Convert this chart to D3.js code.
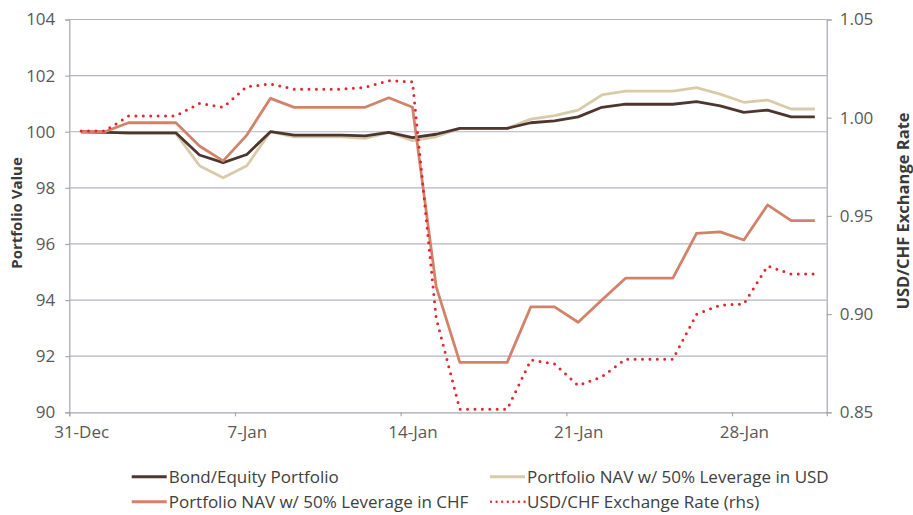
<!DOCTYPE html>
<html>
<head>
<meta charset="utf-8">
<script src="https://cdn.jsdelivr.net/npm/d3@7"></script>
<style>
  body { margin: 0; background: #fff; }
  svg { font-family: "Open Sans", sans-serif; }
</style>
</head>
<body>
<div id="chart"></div>
<script>
// Daily values, 31-Dec-2014 .. 31-Jan-2015
let bondEquity = [100, 99.98, 99.96, 99.96, 99.96, 99.17, 98.9, 99.19, 100, 99.88, 99.88, 99.88, 99.85, 99.98, 99.79, 99.91,
    100.12, 100.12, 100.12, 100.32, 100.39, 100.53, 100.87, 100.98, 100.98, 100.98, 101.07, 100.92, 100.69, 100.77, 100.53, 100.53];
let navUSD = [100, 100, 99.94, 99.94, 99.94, 98.79, 98.36, 98.79, 100, 99.82, 99.82, 99.82, 99.76, 99.98, 99.68, 99.82,
    100.12, 100.12, 100.12, 100.45, 100.57, 100.77, 101.31, 101.45, 101.45, 101.45, 101.57, 101.34, 101.05, 101.13, 100.81, 100.81];
let navCHF = [100, 100, 100.32, 100.32, 100.32, 99.49, 98.96, 99.88, 101.19, 100.87, 100.87, 100.87, 100.87, 101.21, 100.87, 94.48,
    91.78, 91.78, 91.78, 93.76, 93.76, 93.21, 94.0, 94.78, 94.78, 94.78, 96.38, 96.43, 96.14, 97.39, 96.83, 96.83];
let usdchf = [0.9932, 0.9932, 1.0009, 1.0009, 1.0009, 1.0073, 1.0053, 1.0158, 1.0172, 1.0145, 1.0145, 1.0145, 1.0155, 1.0188, 1.0183, 0.898,
    0.8515, 0.8515, 0.8515, 0.8766, 0.8746, 0.8636, 0.8681, 0.877, 0.877, 0.877, 0.8999, 0.9046, 0.9051, 0.9245, 0.9204, 0.9204];

let leftTicks = [90, 92, 94, 96, 98, 100, 102, 104];
let rightTicks = [0.85, 0.90, 0.95, 1.00, 1.05];
let xTickDays = [0, 7, 14, 21, 28];

let width = 913, height = 515;
let margin = { top: 19.5, right: 86.3, bottom: 102.7, left: 69.3 };

let svg = d3.select("#chart").append("svg")
    .attr("width", width)
    .attr("height", height);

function dayDate(i, half) {
    return new Date(2014, 11, 31 + i, half ? 12 : 0);
}

let x = d3.scaleTime()
    .domain([dayDate(0), dayDate(32)])
    .range([margin.left, width - margin.right]);
let yL = d3.scaleLinear().domain([90, 104]).range([height - margin.bottom, margin.top]);
let yR = d3.scaleLinear().domain([0.85, 1.05]).range([height - margin.bottom, margin.top]);
let halfDay = x(dayDate(0, true)) - x(dayDate(0));

let gridColor = "#b4b4bc";
let labelColor = "#595959";

// gridlines
svg.append("g")
    .selectAll("line")
    .data(leftTicks.slice(1))
    .enter().append("line")
    .attr("x1", margin.left).attr("x2", width - margin.right)
    .attr("y1", d => yL(d)).attr("y2", d => yL(d))
    .attr("stroke", gridColor).attr("stroke-width", 1.2);

// axes
let fmtDay = d3.timeFormat("%-d-%b");
let xAxis = svg.append("g")
    .attr("transform", "translate(0," + yL(90) + ")")
    .call(d3.axisBottom(x).tickValues(xTickDays.map(d => dayDate(d))).tickFormat(fmtDay).tickSizeOuter(0).tickSize(4).tickPadding(6));

let leftAxis = svg.append("g")
    .attr("transform", "translate(" + margin.left + ",0)")
    .call(d3.axisLeft(yL).tickValues(leftTicks).tickFormat(d3.format("d")).tickSizeOuter(0).tickSize(4).tickPadding(10));

let rightAxis = svg.append("g")
    .attr("transform", "translate(" + (width - margin.right) + ",0)")
    .call(d3.axisRight(yR).tickValues(rightTicks).tickFormat(d3.format(".2f")).tickSizeOuter(0).tickSize(5).tickPadding(8));

[xAxis, leftAxis, rightAxis].forEach(function(a) {
    a.selectAll(".domain").attr("stroke", "#a6a6ae").attr("stroke-width", 1.2);
    a.selectAll(".tick line").attr("stroke", "#a6a6ae").attr("stroke-width", 1.2);
    a.selectAll(".tick text").attr("fill", labelColor).style("font-size", "17px")
        .style("font-family", "'Open Sans', sans-serif");
});
// date labels sit under the day's centre, tick marks on the day boundary
xAxis.selectAll(".tick text").attr("dy", "0.9em").attr("x", halfDay);

// axis titles
svg.append("text")
    .attr("transform", "translate(22,213) rotate(-90)")
    .attr("text-anchor", "middle")
    .style("font-size", "15px").style("font-weight", "bold")
    .attr("fill", "#3a3a3a")
    .text("Portfolio Value");

svg.append("text")
    .attr("transform", "translate(909,211) rotate(-90)")
    .attr("text-anchor", "middle")
    .style("font-size", "16.5px").style("font-weight", "bold")
    .attr("fill", "#3a3a3a")
    .text("USD/CHF Exchange Rate");

// series
let series = [
    { name: "Portfolio NAV w/ 50% Leverage in USD", values: navUSD, scale: yL, color: "#d8cbaa", dash: null },
    { name: "Bond/Equity Portfolio", values: bondEquity, scale: yL, color: "#4e3630", dash: null },
    { name: "Portfolio NAV w/ 50% Leverage in CHF", values: navCHF, scale: yL, color: "#d3826a", dash: null },
    { name: "USD/CHF Exchange Rate (rhs)", values: usdchf, scale: yR, color: "#e4262e", dash: "0,7.4" }
];

series.forEach(function(s) {
    let line = d3.line()
        .x((d, i) => x(dayDate(i, true)))
        .y(d => s.scale(d));
    svg.append("path")
        .datum(s.values)
        .attr("fill", "none")
        .attr("stroke", s.color)
        .attr("stroke-width", s.dash ? 3 : 2.8)
        .attr("stroke-linejoin", "round")
        .attr("stroke-linecap", s.dash ? "round" : "butt")
        .attr("stroke-dasharray", s.dash)
        .attr("d", line);
});

// legend
let legendItems = [
    { name: "Bond/Equity Portfolio", color: "#4e3630", dash: null, x: 131.7, y: 476.7 },
    { name: "Portfolio NAV w/ 50% Leverage in USD", color: "#d8cbaa", dash: null, x: 490, y: 476.7 },
    { name: "Portfolio NAV w/ 50% Leverage in CHF", color: "#d3826a", dash: null, x: 131.7, y: 501.7 },
    { name: "USD/CHF Exchange Rate (rhs)", color: "#e4262e", dash: "0,5.6", x: 490, y: 501.7 }
];

let legend = svg.append("g")
    .selectAll("g")
    .data(legendItems)
    .enter().append("g")
    .attr("transform", d => "translate(" + d.x + "," + d.y + ")");

legend.append("line")
    .attr("x1", d => d.dash ? 1 : 0).attr("x2", 35)
    .attr("stroke", d => d.color)
    .attr("stroke-width", d => d.dash ? 2.4 : 3)
    .attr("stroke-linecap", d => d.dash ? "round" : "butt")
    .attr("stroke-dasharray", d => d.dash);

legend.append("text")
    .attr("x", 37)
    .attr("dy", "0.35em")
    .style("font-size", "17px")
    .attr("fill", "#404040")
    .text(d => d.name);
</script>
</body>
</html>
